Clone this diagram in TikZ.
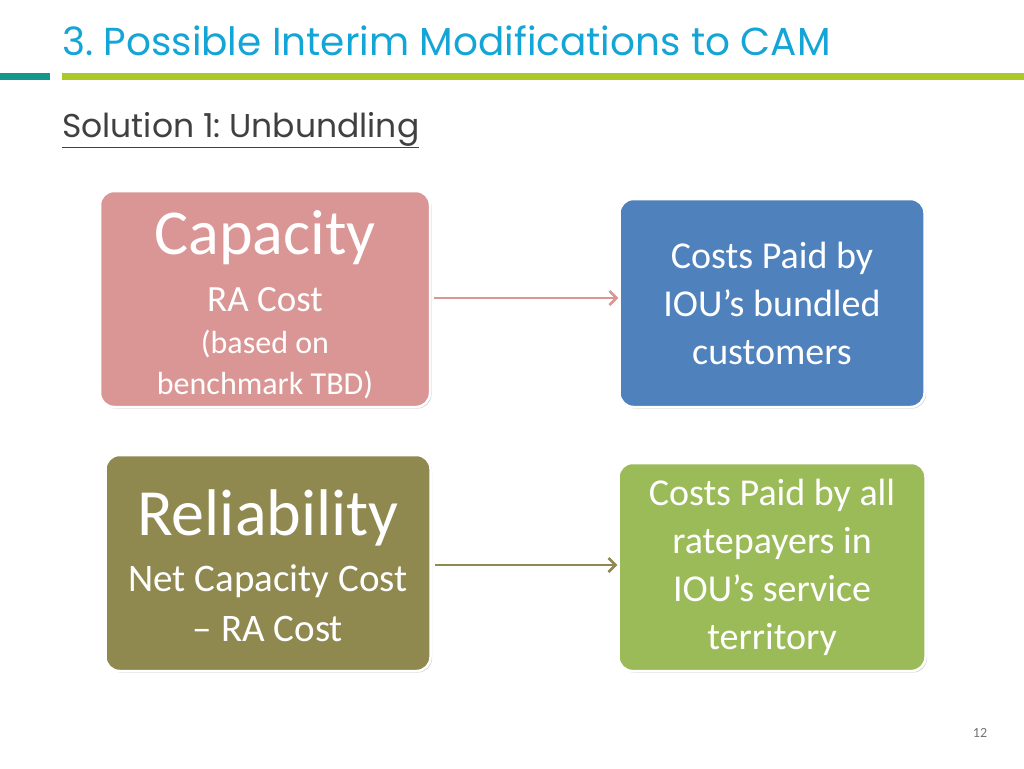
\documentclass[tikz,border=0pt]{standalone}
\usepackage{fontspec}
\setmainfont{Carlito}[Ligatures=NoCommon]
\newfontfamily\headfont{Poppins}
\frenchspacing
\usetikzlibrary{shadows,arrows.meta}
\definecolor{titleblue}{RGB}{20,165,215}
\definecolor{barteal}{RGB}{20,150,140}
\definecolor{bargreen}{RGB}{170,200,40}
\definecolor{capred}{RGB}{217,150,148}
\definecolor{costblue}{RGB}{79,129,189}
\definecolor{relolive}{RGB}{143,136,79}
\definecolor{costgreen}{RGB}{155,187,89}
\tikzset{
  box/.style={draw=white, line width=2.5pt, rounded corners=14pt, text=white,
    align=center, drop shadow={shadow xshift=1.5pt, shadow yshift=-1.5pt, opacity=0.35}},
  boxtext/.style={text=white, inner sep=0pt},
  link/.style={line width=2.5pt, -{Straight Barb[length=7pt,width=14pt]}}
}
\begin{document}
\begin{tikzpicture}[x=1pt,y=-1pt]
  \useasboundingbox (0,0) rectangle (1024,768);

  \node[anchor=base west, inner sep=0pt, text=titleblue, font=\headfont\fontsize{39}{44}\selectfont] (title) at (62,56) {3. Possible Interim Modifications to CAM};
  \fill[barteal] (0,73) rectangle (50,80);
  \fill[bargreen] (62,73) rectangle (1024,80);
  \node[anchor=base west, inner sep=0pt, text=black!75, font=\headfont\fontsize{33}{38}\selectfont] (sub) at (62,137) {\underline{Solution 1: Unbundling}};

  \node[box, fill=capred, minimum width=330pt, minimum height=216pt] (cap) at (265,299) {};
  \node[boxtext, font=\fontsize{64}{70}\selectfont] (capt) at (265,238) {Capacity};
  \node[boxtext, font=\fontsize{37}{42}\selectfont] (capra) at (265,300) {RA Cost};
  \node[boxtext, font=\fontsize{32}{36}\selectfont] (capb1) at (265,344) {(based on};
  \node[boxtext, font=\fontsize{32}{36}\selectfont] (capb2) at (265,385) {benchmark TBD)};

  \node[box, fill=costblue, minimum width=305pt, minimum height=208pt,
    font=\fontsize{38}{48}\selectfont] (bund) at (772,303)
    {Costs Paid by\\IOU’s bundled\\customers};

  \node[box, fill=relolive, minimum width=325pt, minimum height=216pt] (rel) at (268,563) {};
  \node[boxtext, font=\fontsize{66}{72}\selectfont] (relt) at (268,518) {Reliability};
  \node[boxtext, font=\fontsize{39}{44}\selectfont] (relnet) at (268,581) {Net Capacity Cost};
  \node[boxtext, font=\fontsize{39}{44}\selectfont] (relra) at (268,629) {– RA Cost};

  \node[box, fill=costgreen, minimum width=307pt, minimum height=208pt,
    font=\fontsize{38}{48}\selectfont] (all) at (772,567)
    {Costs Paid by all\\ratepayers in\\IOU’s service\\territory};

  \draw[link, capred] (cap.east |- 0,298) ++(3,0) -- (bund.west |- 0,298);
  \draw[link, relolive] (rel.east |- 0,565) ++(3,0) -- (all.west |- 0,565);

  \node[text=black!55, font=\fontsize{14}{16}\selectfont] (page) at (980,733) {12};
\end{tikzpicture}
\end{document}
